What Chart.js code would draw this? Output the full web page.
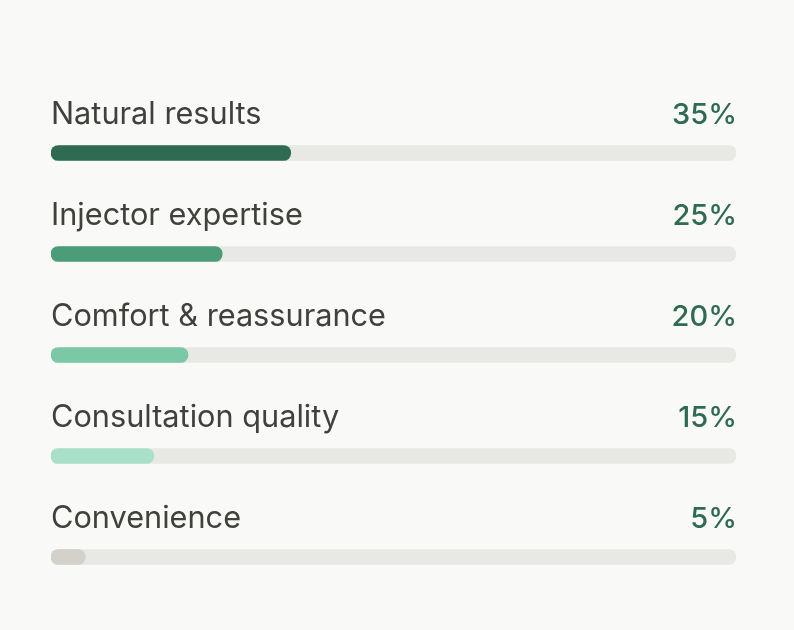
<!DOCTYPE html>
<html>
<head>
<meta charset="utf-8">
<script src="https://cdn.jsdelivr.net/npm/chart.js@4"></script>
<style>
  html, body { margin: 0; padding: 0; background: #f9f9f7; }
  #wrap { width: 794px; height: 630px; position: relative; }
</style>
</head>
<body>
<div id="wrap"><canvas id="factorsChart"></canvas></div>
<script>
// Decision factors - horizontal progress bars

const categories = ['Natural results', 'Injector expertise', 'Comfort & reassurance', 'Consultation quality', 'Convenience'];
const shares = [35, 25, 20, 15, 5];
const trackValues = [100, 100, 100, 100, 100];
const barColors = ['#2f6b53', '#4b9c79', '#7bc8a6', '#aadfca', '#d3d1ca'];

const FONT = 'Inter, sans-serif';

// Draws the label above each bar and the percentage on the right
const rowLabels = {
  id: 'rowLabels',
  afterDatasetsDraw(chart) {
    const { ctx, chartArea, scales } = chart;
    ctx.save();
    ctx.textBaseline = 'alphabetic';
    categories.forEach((name, i) => {
      const y = scales.y.getPixelForValue(i) - 29;
      ctx.font = '400 30.7px ' + FONT;
      ctx.fillStyle = '#40403d';
      ctx.textAlign = 'left';
      ctx.fillText(name, chartArea.left, y);
      ctx.font = '500 29px ' + FONT;
      ctx.fillStyle = '#2f6b53';
      ctx.textAlign = 'right';
      ctx.fillText(shares[i] + '%', chartArea.right + 1, y);
    });
    ctx.restore();
  }
};

new Chart(document.getElementById('factorsChart'), {
  type: 'bar',
  data: {
    labels: categories,
    datasets: [
      {
        data: shares,
        backgroundColor: barColors,
        borderRadius: 8,
        borderSkipped: false,
        barThickness: 15,
        grouped: false,
        order: 1
      },
      {
        data: trackValues,
        backgroundColor: '#e8e8e4',
        borderRadius: 8,
        borderSkipped: false,
        barThickness: 15,
        grouped: false,
        order: 2
      }
    ]
  },
  options: {
    indexAxis: 'y',
    responsive: true,
    maintainAspectRatio: false,
    animation: false,
    layout: { padding: { left: 51, right: 58, top: 102.5, bottom: 22.5 } },
    plugins: { legend: { display: false }, tooltip: { enabled: false } },
    scales: {
      x: { display: false, min: 0, max: 100 },
      y: { display: false }
    }
  },
  plugins: [rowLabels]
});
</script>
</body>
</html>
